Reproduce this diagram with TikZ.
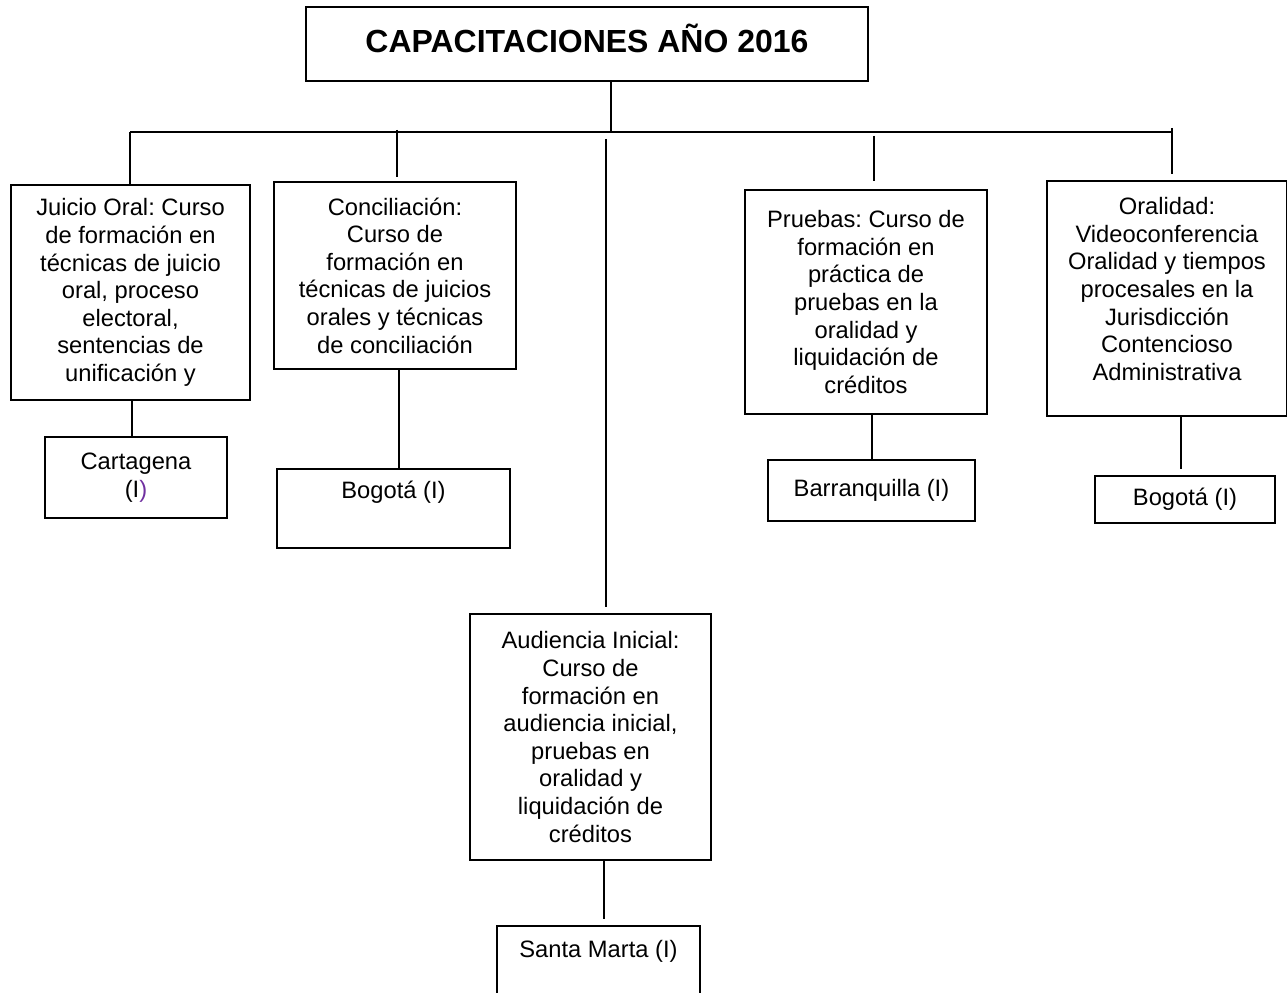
\documentclass[tikz,border=0pt]{standalone}
\usepackage{fontspec}
\setmainfont{Liberation Sans}
\frenchspacing
\definecolor{purp}{RGB}{112,48,160}
\begin{document}
\begin{tikzpicture}[x=0.02cm,y=-0.02cm,
  box/.style={draw, line width=1pt, inner sep=0pt},
  txt/.style={align=center, inner sep=0pt, font=\fontsize{13.5}{15.7}\selectfont},
  con/.style={line width=1pt}]
\useasboundingbox (0,0) rectangle (1287,993);
\clip (0,0) rectangle (1287,993);
% title
\node[box, minimum width=11.24cm, minimum height=1.48cm] (title) at (587,44) {};
\node[anchor=base, inner sep=0pt, font=\fontsize{18.2}{20}\selectfont\bfseries] (titlet) at (587,53) {CAPACITACIONES AÑO 2016};
% level 1 boxes
\node[box, txt, minimum width=4.78cm, minimum height=4.30cm] (jo) at (130.5,292.5)
  {Juicio Oral: Curso\\de formación en\\técnicas de juicio\\oral, proceso\\electoral,\\sentencias de\\unificación y};
\node[box, txt, minimum width=4.84cm, minimum height=3.74cm] (co) at (395,275.5)
  {Conciliación:\\Curso de\\formación en\\técnicas de juicios\\orales y técnicas\\de conciliación};
\node[box, txt, minimum width=4.84cm, minimum height=4.48cm] (pr) at (866,302)
  {Pruebas: Curso de\\formación en\\práctica de\\pruebas en la\\oralidad y\\liquidación de\\créditos};
\node[box, minimum width=4.80cm, minimum height=4.70cm] (or) at (1167,298.5) {};
\node[txt] (ort) at (1167,289)
  {Oralidad:\\Videoconferencia\\Oralidad y tiempos\\procesales en la\\Jurisdicción\\Contencioso\\Administrativa};
\node[box, txt, minimum width=4.82cm, minimum height=4.92cm] (au) at (590.5,737)
  {Audiencia Inicial:\\Curso de\\formación en\\audiencia inicial,\\pruebas en\\oralidad y\\liquidación de\\créditos};
% level 2 boxes
\node[box, txt, minimum width=3.64cm, minimum height=1.62cm] (ca) at (136,477.5)
  {Cartagena\\(I\textcolor{purp}{)}};
\node[box, minimum width=4.66cm, minimum height=1.58cm] (b1) at (393.5,508.5) {};
\node[txt] (b1t) at (393.5,492) {Bogotá (I)};
\node[box, txt, minimum width=4.14cm, minimum height=1.22cm] (ba) at (871.5,490.5) {Barranquilla (I)};
\node[box, txt, minimum width=3.60cm, minimum height=0.94cm] (b2) at (1185,499.5) {Bogotá (I)};
\node[box, minimum width=4.06cm, minimum height=1.80cm] (sm) at (598.5,971) {};
\node[txt] (smt) at (598.5,951) {Santa Marta (I)};
% connectors
\coordinate (hl) at (130,132);
\coordinate (hr) at (1172,132);
\coordinate (hm) at (611,132);
\draw[con] (hl) -- (hr);
\draw[con] (title.south -| hm) -- (hm);
\draw[con] (hl) -- (jo.north -| hl);
\coordinate (d2) at (397,130);
\draw[con, shorten >=0.08cm] (d2) -- (co.north -| d2);
\coordinate (d3) at (606,139);
\draw[con, shorten >=0.12cm] (d3) -- (au.north -| d3);
\coordinate (d4) at (874,136);
\draw[con, shorten >=0.16cm] (d4) -- (pr.north -| d4);
\coordinate (d5) at (1172,128);
\draw[con, shorten >=0.12cm] (d5) -- (or.north -| d5);
\coordinate (l1) at (132,0);
\draw[con] (jo.south -| l1) -- (ca.north -| l1);
\coordinate (l2) at (399,0);
\draw[con] (co.south -| l2) -- (b1.north -| l2);
\coordinate (l4) at (872,0);
\draw[con] (pr.south -| l4) -- (ba.north -| l4);
\coordinate (l5) at (1181,0);
\draw[con, shorten >=0.12cm] (or.south -| l5) -- (b2.north -| l5);
\coordinate (l6) at (604,0);
\draw[con, shorten >=0.12cm] (au.south -| l6) -- (sm.north -| l6);
\end{tikzpicture}
\end{document}
